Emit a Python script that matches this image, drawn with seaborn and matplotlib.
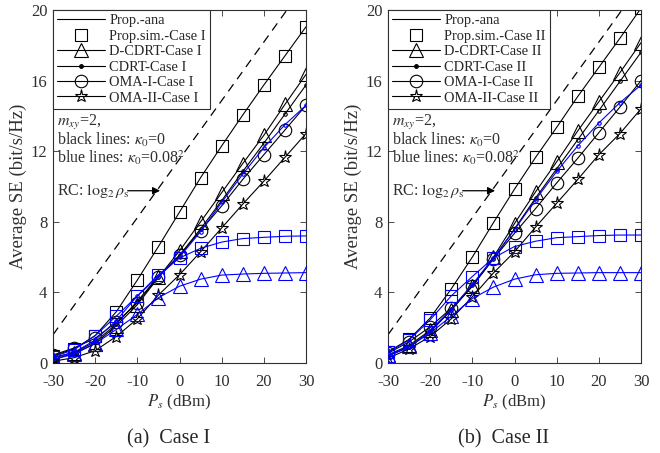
import matplotlib
matplotlib.use("Agg")
import matplotlib.pyplot as plt
import seaborn as sns
import pandas as pd
from matplotlib.lines import Line2D

# ---------------- data ----------------
ps = [-30, -25, -20, -15, -10, -5, 0, 5, 10, 15, 20, 25, 30]
rc_x = [-30, 30]
rc_y = [1.6, 21.5]

# Case I, kappa0 = 0 (black)
prop_1 = [0.4, 0.8, 1.55, 2.9, 4.7, 6.6, 8.55, 10.5, 12.3, 14.05, 15.75, 17.4, 19.05]
dcdrt_1 = [0.2, 0.55, 1.1, 2.1, 3.3, 4.85, 6.35, 8.0, 9.65, 11.3, 12.9, 14.65, 16.35]
cdrt_1 = [0.3, 0.6, 1.2, 2.2, 3.5, 4.9, 6.1, 7.6, 9.2, 10.85, 12.45, 14.1, 15.75]
omai_1 = [0.45, 0.85, 1.4, 2.3, 3.4, 4.9, 6.1, 7.5, 8.9, 10.4, 11.8, 13.2, 14.6]
omaii_1 = [0.1, 0.3, 0.7, 1.5, 2.5, 3.85, 5.0, 6.3, 7.65, 9.0, 10.3, 11.65, 13.0]
# Case I, kappa0 = 0.08^2 (blue)
prop_1b = [0.35, 0.75, 1.55, 2.65, 3.8, 5.0, 5.95, 6.5, 6.85, 7.05, 7.12, 7.18, 7.2]
dcdrt_1b = [0.2, 0.5, 1.1, 1.9, 2.75, 3.7, 4.35, 4.75, 4.98, 5.04, 5.08, 5.1, 5.12]
cdrt_1b = [0.3, 0.6, 1.3, 2.4, 3.8, 4.9, 6.0, 7.45, 9.1, 10.7, 12.2, 13.5, 14.6]

# Case II, kappa0 = 0 (black)
prop_2 = [0.64, 1.34, 2.55, 4.2, 6.0, 7.95, 9.85, 11.65, 13.35, 15.1, 16.75, 18.4, 20.1]
dcdrt_2 = [0.45, 1.0, 1.85, 3.0, 4.35, 6.0, 7.9, 9.7, 11.4, 13.15, 14.8, 16.45, 18.15]
cdrt_2 = [0.4, 0.9, 1.75, 3.0, 4.4, 5.9, 7.6, 9.35, 11.0, 12.65, 14.3, 15.95, 17.6]
omai_2 = [0.55, 1.2, 2.05, 3.1, 4.35, 5.9, 7.35, 8.75, 10.2, 11.6, 13.05, 14.5, 16.0]
omaii_2 = [0.27, 0.8, 1.5, 2.5, 3.75, 5.1, 6.3, 7.7, 9.05, 10.4, 11.8, 13.0, 14.4]
# Case II, kappa0 = 0.08^2 (blue)
prop_2b = [0.6, 1.3, 2.45, 3.8, 4.9, 5.95, 6.6, 6.9, 7.1, 7.16, 7.22, 7.25, 7.25]
dcdrt_2b = [0.45, 0.95, 1.7, 2.65, 3.65, 4.3, 4.75, 5.0, 5.08, 5.1, 5.12, 5.12, 5.12]
cdrt_2b = [0.4, 0.9, 1.8, 3.05, 4.45, 5.95, 7.55, 9.25, 10.85, 12.3, 13.6, 14.75, 15.75]

xticks = [-30, -20, -10, 0, 10, 20, 30]
yticks = [0, 4, 8, 12, 16, 20]
captions = ["(a)  Case I", "(b)  Case II"]
case_names = ["Case I", "Case II"]

# ---------------- style ----------------
sns.set_style("ticks")
plt.rcParams["font.family"] = ["Liberation Serif", "DejaVu Serif"]
plt.rcParams["mathtext.fontset"] = "stix"
plt.rcParams["xtick.direction"] = "in"
plt.rcParams["ytick.direction"] = "in"

fig = plt.figure(figsize=(6.6, 4.53), dpi=100)
ax1 = fig.add_axes([53 / 660, 1 - 363 / 453, 253 / 660, 353 / 453])
ax2 = fig.add_axes([388 / 660, 1 - 363 / 453, 253 / 660, 353 / 453])

BLUE = "#0000FF"
GRAY = "#303030"
LW = 0.8


def draw(ax, y, color, marker, ms, ls="-", z=2):
    df = pd.DataFrame({"P": ps, "SE": y})
    sns.lineplot(data=df, x="P", y="SE", ax=ax, color=color, marker=marker,
                 markersize=ms, markerfacecolor="none", markeredgecolor=color,
                 markeredgewidth=0.8, linewidth=LW, linestyle=ls, zorder=z)


sets = [
    (ax1, prop_1, dcdrt_1, cdrt_1, omai_1, omaii_1, prop_1b, dcdrt_1b, cdrt_1b),
    (ax2, prop_2, dcdrt_2, cdrt_2, omai_2, omaii_2, prop_2b, dcdrt_2b, cdrt_2b),
]
cap_x = [169 / 660, 503 / 660]

for i, (ax, pr, dc, cd, o1, o2, prb, dcb, cdb) in enumerate(sets):
    # RC dashed line
    sns.lineplot(x=rc_x, y=rc_y, ax=ax, color="black", linewidth=0.9,
                 linestyle=(0, (7, 5)))
    # black lines (kappa0 = 0)
    draw(ax, pr, "black", None, 0)
    dfp = pd.DataFrame({"P": ps, "SE": pr})
    sns.lineplot(data=dfp, x="P", y="SE", ax=ax, color="black", marker="s",
                 markersize=9, markerfacecolor="none", markeredgecolor="black",
                 markeredgewidth=0.8, linestyle="none", zorder=3)
    draw(ax, dc, "black", "^", 10)
    draw(ax, cd, "black", ".", 5)
    draw(ax, o1, "black", "o", 9)
    draw(ax, o2, "black", "*", 9.5)
    # blue lines (kappa0 = 0.08^2)
    draw(ax, prb, BLUE, "s", 9, z=4)
    draw(ax, dcb, BLUE, "^", 10, z=4)
    draw(ax, cdb, BLUE, ".", 5, z=4)

    ax.set_xlim(-30, 30)
    ax.set_ylim(0, 20)
    ax.set_xticks(xticks)
    ax.set_yticks(yticks)
    ax.set_xticklabels([str(t) for t in xticks])
    ax.tick_params(axis="both", labelsize=12, top=True, right=True, length=4,
                   width=0.6, colors=GRAY, labelcolor=GRAY)
    ax.tick_params(axis="x", pad=8)
    ax.tick_params(axis="y", pad=4)
    for s in ax.spines.values():
        s.set_visible(True)
        s.set_linewidth(0.8)
        s.set_color(GRAY)
    ax.set_xlabel("$P_s$ (dBm)", fontsize=12, labelpad=2, color=GRAY)
    ax.set_ylabel("Average SE (bit/s/Hz)", fontsize=13.5, labelpad=3,
                  color=GRAY)

    # annotations
    ax.text(-29.1, 13.6, "$m_{xy}$=2,", fontsize=11.5, va="center",
            ha="left", color=GRAY)
    ax.text(-29.1, 12.62, "black lines: $\\kappa_0$=0", fontsize=11.5,
            va="center", ha="left", color=GRAY)
    ax.text(-29.1, 11.65, "blue lines: $\\kappa_0$=0.08$^2$", fontsize=11.5,
            va="center", ha="left", color=GRAY)
    ax.text(-29.1, 9.76, "RC: $\\log_2\\rho_\\mathrm{s}$", fontsize=11.5,
            va="center", ha="left", color=GRAY)
    ax.annotate("", xy=(-4.6, 9.76), xytext=(-12.3, 9.76),
                arrowprops=dict(arrowstyle="-|>", color="black", lw=0.9,
                                mutation_scale=11, shrinkA=0, shrinkB=0))

    # legend
    cn = case_names[i]
    handles = [
        Line2D([], [], color="black", lw=LW),
        Line2D([], [], color="black", marker="s", ls="none", ms=9,
               mfc="none", mew=0.8),
        Line2D([], [], color="black", marker="^", lw=LW, ms=10, mfc="none",
               mew=0.8),
        Line2D([], [], color="black", marker=".", lw=LW, ms=5),
        Line2D([], [], color="black", marker="o", lw=LW, ms=9, mfc="none",
               mew=0.8),
        Line2D([], [], color="black", marker="*", lw=LW, ms=9.5, mfc="none",
               mew=0.8),
    ]
    labels = ["Prop.-ana", f"Prop.sim.-{cn}", f"D-CDRT-{cn}", f"CDRT-{cn}",
              f"OMA-I-{cn}", f"OMA-II-{cn}"]
    leg = ax.legend(handles, labels, loc="upper left", fontsize=10.4,
                    frameon=True, fancybox=False, framealpha=1,
                    edgecolor=GRAY, handlelength=3.3, labelspacing=0.16,
                    borderpad=0.3, borderaxespad=0, handletextpad=0.3)
    leg.get_frame().set_linewidth(0.8)

    # caption
    fig.text(cap_x[i], 1 - 439 / 453, captions[i], ha="center", va="center",
             fontsize=14.5)

fig.savefig("out.png", dpi=100)
